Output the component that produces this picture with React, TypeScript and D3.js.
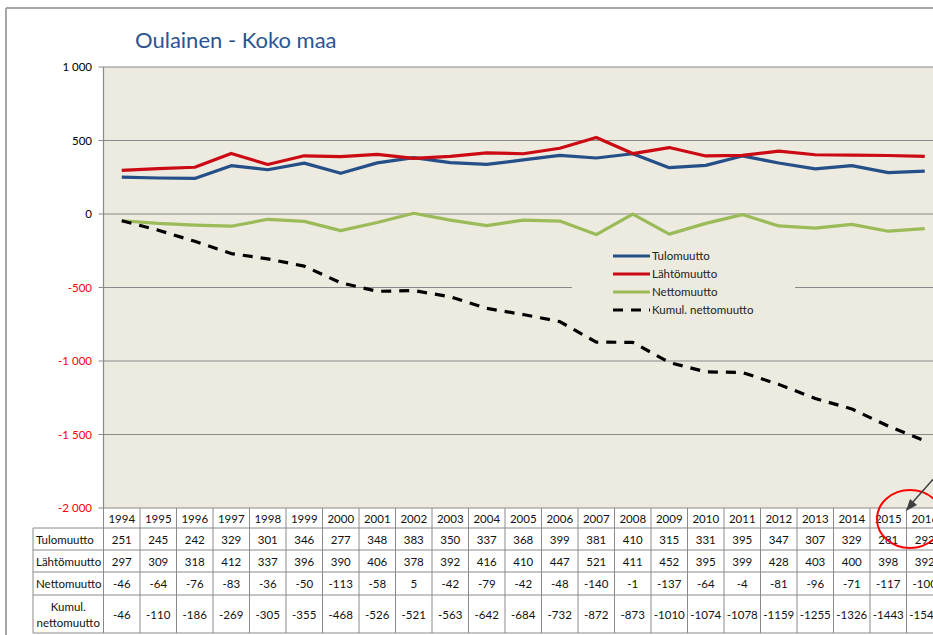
import React from "react";
import * as d3 from "d3";

const years = ["1994","1995","1996","1997","1998","1999","2000","2001","2002","2003","2004","2005","2006","2007","2008","2009","2010","2011","2012","2013","2014","2015","2016"];
const tulomuutto = [251,245,242,329,301,346,277,348,383,350,337,368,399,381,410,315,331,395,347,307,329,281,292];
const lahtomuutto = [297,309,318,412,337,396,390,406,378,392,416,410,447,521,411,452,395,399,428,403,400,398,392];
const nettomuutto = [-46,-64,-76,-83,-36,-50,-113,-58,5,-42,-79,-42,-48,-140,-1,-137,-64,-4,-81,-96,-71,-117,-100];
const kumul = [-46,-110,-186,-269,-305,-355,-468,-526,-521,-563,-642,-684,-732,-872,-873,-1010,-1074,-1078,-1159,-1255,-1326,-1443,-1543];
const yTicks = [1000,500,0,-500,-1000,-1500,-2000];

const seriesDefs = [
  { name: "Tulomuutto", values: tulomuutto, color: "#254F88", dash: "" },
  { name: "Lähtömuutto", values: lahtomuutto, color: "#CC0A14", dash: "" },
  { name: "Nettomuutto", values: nettomuutto, color: "#9BBB59", dash: "" },
  { name: "Kumul. nettomuutto", values: kumul, color: "#000000", dash: "10,8" },
];

const FONT = "Lato, 'Open Sans', sans-serif";

export default function App() {
  const left = 103.5, top = 67, bottom = 508;
  const colW = 36.5;
  const right = left + colW * years.length;
  const x = d3.scaleBand<string>().domain(years).range([left, right]).padding(0);
  const y = d3.scaleLinear().domain([-2000, 1000]).range([bottom, top]);
  const cx = (i: number) => (x(years[i]) as number) + x.bandwidth() / 2;
  const line = (vals: number[]) =>
    d3.line<number>().x((_, i) => cx(i)).y((v) => y(v))(vals) as string;

  const fmt = (v: number) => {
    const s = Math.abs(v) >= 1000 ? d3.format(",")(Math.abs(v)).replace(",", " ") : String(Math.abs(v));
    return (v < 0 ? "-" : "") + s;
  };

  const rowY = [508, 528, 550, 572, 595, 633];
  const labelLeft = 33;
  const tableRows = [
    { label: ["Tulomuutto"], values: tulomuutto },
    { label: ["Lähtömuutto"], values: lahtomuutto },
    { label: ["Nettomuutto"], values: nettomuutto },
    { label: ["Kumul.", "nettomuutto"], values: kumul },
  ];
  const gridColor = "#8a8a8a";

  return (
    <svg width={933} height={635} style={{ position: "absolute", left: 0, top: 0, background: "#fff" }} fontFamily={FONT}>
      <line x1={6} y1={8} x2={933} y2={8} stroke="#a6a6a6" strokeWidth={2} />
      <line x1={6} y1={8} x2={6} y2={635} stroke="#a6a6a6" strokeWidth={2} />

      <text x={135} y={48} fontSize={22} fill="#2A5592">Oulainen - Koko maa</text>

      <rect x={left} y={top} width={right - left} height={bottom - top} fill="#EDEADF" />
      {yTicks.map((t) => (
        <g key={t}>
          <line x1={left - 5} x2={right} y1={y(t)} y2={y(t)} stroke={gridColor} strokeWidth={1.2} />
          <text x={92} y={y(t) + 4} fontSize={11.5} textAnchor="end" fill={t < 0 ? "#FF0000" : "#000"}>
            {fmt(t)}
          </text>
        </g>
      ))}
      <line x1={left} x2={left} y1={top} y2={bottom} stroke={gridColor} strokeWidth={1.2} />

      <rect x={572} y={246} width={223} height={74} fill="#EDEADF" />

      {seriesDefs.map((s) => (
        <path key={s.name} d={line(s.values)} fill="none" stroke={s.color} strokeWidth={3.2}
          strokeDasharray={s.dash || undefined} strokeLinejoin="round" />
      ))}

      {seriesDefs.map((s, i) => (
        <g key={s.name}>
          <line x1={613} x2={650} y1={256 + i * 18} y2={256 + i * 18} stroke={s.color} strokeWidth={3}
            strokeDasharray={s.dash ? "10,8" : undefined} />
          <text x={652} y={256 + i * 18 + 4} fontSize={11.5} fill="#222">{s.name}</text>
        </g>
      ))}

      <g fontSize={11.5} fill="#111">
        {rowY.slice(1).map((ry, i) => (
          <line key={"h" + i} x1={labelLeft} x2={right} y1={ry} y2={ry} stroke={gridColor} />
        ))}
        <line x1={labelLeft} x2={labelLeft} y1={rowY[1]} y2={rowY[5]} stroke={gridColor} />
        {years.map((yr, i) => (
          <line key={"v" + i} x1={x(yr) as number} x2={x(yr) as number} y1={rowY[0]} y2={rowY[5]} stroke={gridColor} />
        ))}
        <line x1={right} x2={right} y1={rowY[0]} y2={rowY[5]} stroke={gridColor} />
        {years.map((yr, i) => (
          <text key={"y" + yr} x={cx(i)} y={(rowY[0] + rowY[1]) / 2 + 4.5} textAnchor="middle">{yr}</text>
        ))}
        {tableRows.map((r, ri) => {
          const y0 = rowY[ri + 1], y1 = rowY[ri + 2];
          const mid = (y0 + y1) / 2;
          return (
            <g key={"r" + ri}>
              {r.label.length === 1 ? (
                <text x={labelLeft + 3} y={mid + 4.5}>{r.label[0]}</text>
              ) : (
                <>
                  <text x={(labelLeft + left) / 2} y={mid - 3} textAnchor="middle">{r.label[0]}</text>
                  <text x={(labelLeft + left) / 2} y={mid + 13} textAnchor="middle">{r.label[1]}</text>
                </>
              )}
              {r.values.map((v, i) => (
                <text key={i} x={cx(i)} y={mid + 4.5} textAnchor="middle">{v}</text>
              ))}
            </g>
          );
        })}
      </g>

      <ellipse cx={910} cy={519} rx={33} ry={29} fill="none" stroke="#FF0000" strokeWidth={2} />
      <line x1={935} y1={477} x2={912} y2={503} stroke="#404040" strokeWidth={1.5} />
      <path d="M906,511 L910,499 L917,505 Z" fill="#404040" />
    </svg>
  );
}
